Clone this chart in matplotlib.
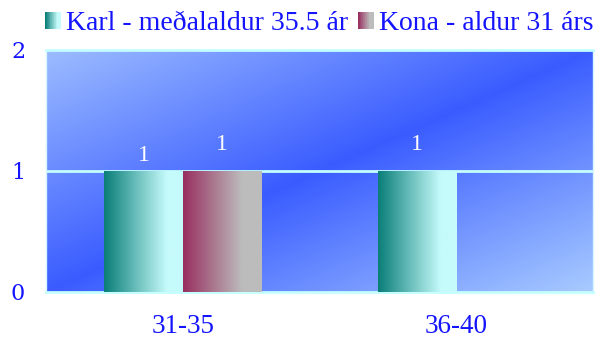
import numpy as np
import matplotlib.pyplot as plt
from matplotlib.colors import LinearSegmentedColormap
from matplotlib.legend_handler import HandlerBase
from matplotlib.patches import Rectangle

categories = ["31-35", "36-40"]
karl = [1, 1]
kona = [1, 0]
series_names = ["Karl - meðalaldur 35.5 ár", "Kona - aldur 31 árs"]
label_offsets = [[11, 19], [19, 19]]  # points above bar top, per series/category

TEXT_BLUE = "#1414ff"
GRID_CYAN = "#c4ffff"

karl_cmap = LinearSegmentedColormap.from_list(
    "karl", [(0, "#0a7e78"), (0.8, "#c6fbfb"), (1, "#c6fbfb")])
kona_cmap = LinearSegmentedColormap.from_list(
    "kona", [(0, "#982f5f"), (0.75, "#bcbcbc"), (1, "#bcbcbc")])
bg_cmap = LinearSegmentedColormap.from_list(
    "bg", [(0, "#9cbcff"), (0.5, "#3a5cff"), (1, "#a8cbff")])


class GradientHandler(HandlerBase):
    def __init__(self, cmap, n=24):
        super().__init__()
        self.cmap = cmap
        self.n = n

    def create_artists(self, legend, orig_handle, xdescent, ydescent,
                       width, height, fontsize, trans):
        w = width / self.n
        arts = []
        for k in range(self.n):
            r = Rectangle((-xdescent + k * w, -ydescent), w * 1.05, height,
                          facecolor=self.cmap(k / (self.n - 1)),
                          edgecolor="none", transform=trans)
            arts.append(r)
        return arts


def gradient_bars(ax, x, heights, width, cmap):
    bars = ax.bar(x, heights, width=width, color="none", zorder=3)
    grad = np.linspace(0, 1, 256).reshape(1, -1)
    for b in bars:
        if b.get_height() == 0:
            continue
        x0, y0 = b.get_x(), b.get_y()
        im = ax.imshow(grad, cmap=cmap, aspect="auto", zorder=3,
                       extent=(x0, x0 + b.get_width(), y0, y0 + b.get_height()))
        im.set_clip_path(b)
    return bars


fig = plt.figure(figsize=(6.13, 3.39), dpi=100)
ax = fig.add_axes([0.075, 0.139, 0.893, 0.714])

# diagonal background: light corners top-left / bottom-right, dark band between
gx, gy = np.meshgrid(np.linspace(0, 1, 300), np.linspace(1, 0, 200))
t = (gx + (1 - gy)) / 2
ax.imshow(t, cmap=bg_cmap, aspect="auto", extent=(0, 1, 0, 1),
          transform=ax.transAxes, zorder=0, vmin=0, vmax=1)

x = np.arange(len(categories))
bw = 0.287
gradient_bars(ax, x - bw / 2, karl, bw, karl_cmap)
gradient_bars(ax, x + bw / 2, kona, bw, kona_cmap)

for si, (vals, sx) in enumerate([(karl, -bw / 2), (kona, bw / 2)]):
    for ci, v in enumerate(vals):
        if v == 0:
            continue
        ax.annotate(str(v), (x[ci] + sx, v), xytext=(0, label_offsets[si][ci]),
                    textcoords="offset points", ha="center", va="center",
                    color="white", fontsize=17, family="Liberation Serif",
                    zorder=5)

ax.set_xlim(-0.5, 1.5)
ax.set_ylim(0, 2)
ax.set_yticks([0, 1, 2])
ax.set_xticks(x)
ax.set_xticklabels(categories)
ax.axhline(1, color=GRID_CYAN, lw=2, zorder=2)

for side in ["top", "bottom"]:
    ax.spines[side].set_color(GRID_CYAN)
    ax.spines[side].set_linewidth(2)
for side in ["left", "right"]:
    ax.spines[side].set_color("#d8f4ff")
    ax.spines[side].set_linewidth(1)

ax.tick_params(axis="x", length=0, pad=16, labelcolor=TEXT_BLUE, labelsize=19.5)
ax.tick_params(axis="y", length=0, pad=15, labelcolor=TEXT_BLUE, labelsize=16)
for lab in ax.get_xticklabels():
    lab.set_family("Liberation Serif")
for lab in ax.get_yticklabels():
    lab.set_family("DejaVu Serif")

h1 = Rectangle((0, 0), 1, 1)
h2 = Rectangle((0, 0), 1, 1)
fig.legend([h1, h2], series_names, loc="upper left",
           bbox_to_anchor=(0.058, 0.995), ncol=2, frameon=False,
           handler_map={h1: GradientHandler(karl_cmap), h2: GradientHandler(kona_cmap)},
           prop={"family": "Liberation Serif", "size": 20},
           labelcolor=TEXT_BLUE, handlelength=0.56, handleheight=0.6,
           handletextpad=0.2, columnspacing=0.35, borderpad=0.2,
           borderaxespad=0.15)

fig.savefig("out.png", dpi=100)
